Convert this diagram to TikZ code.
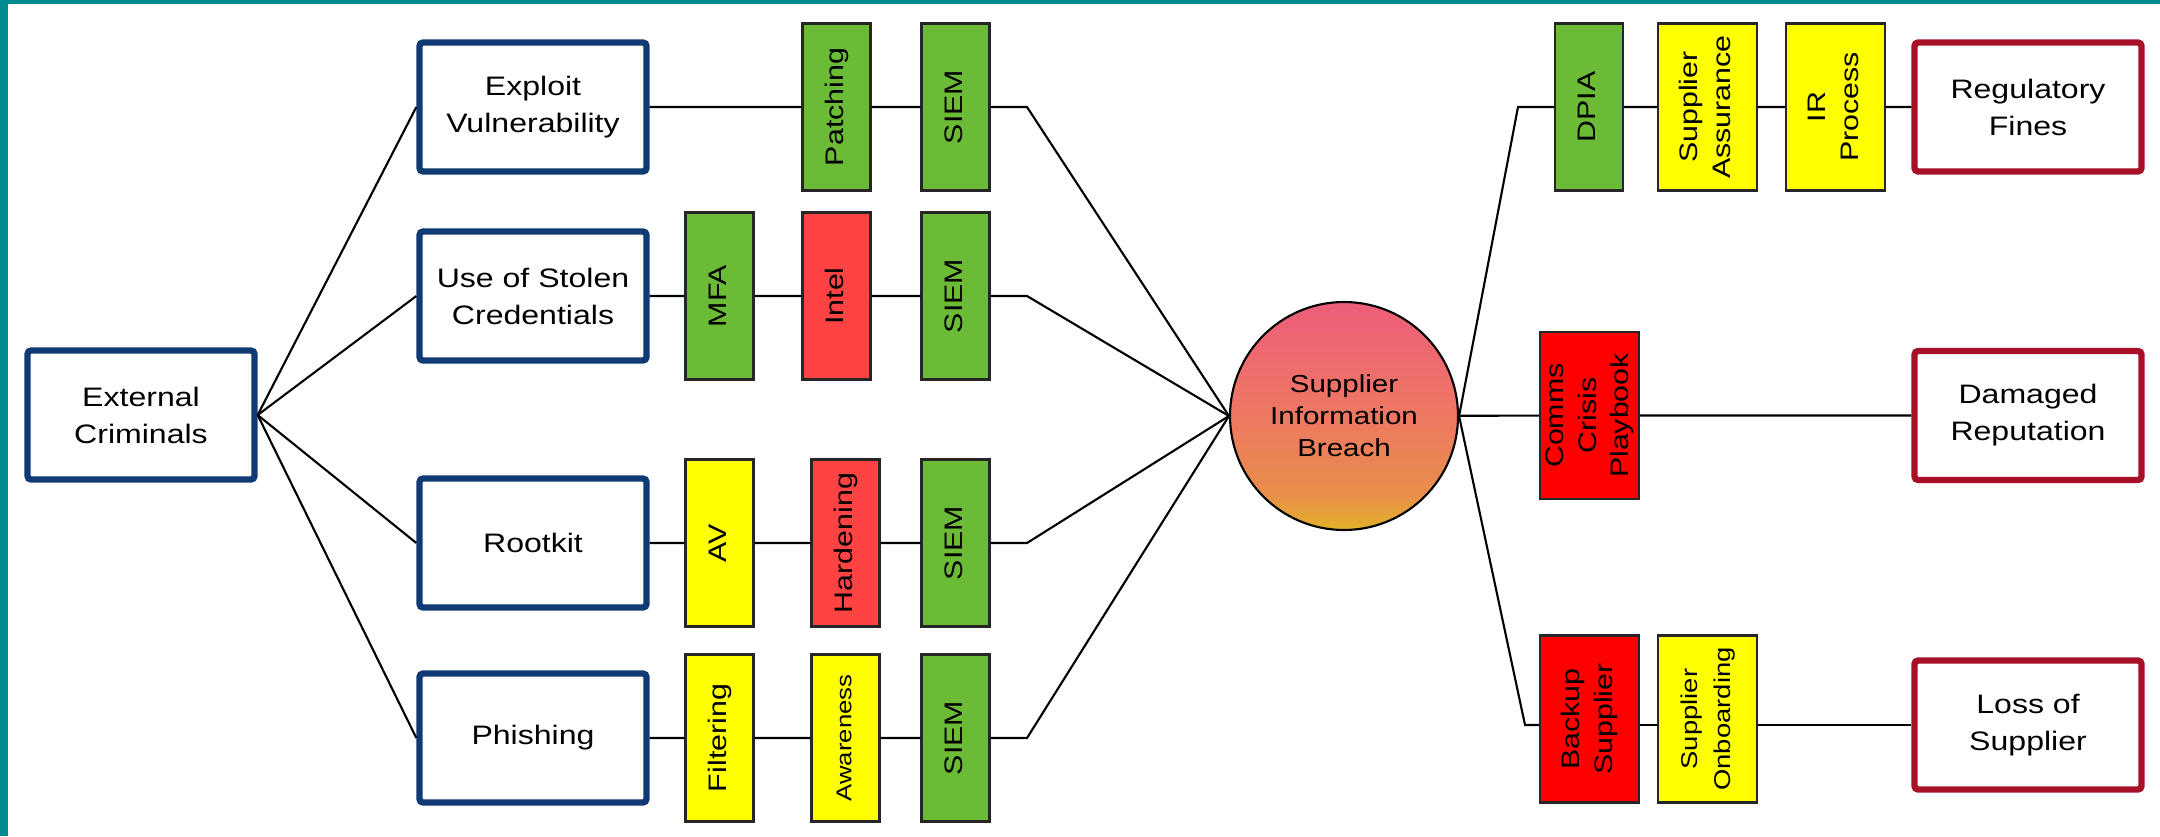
\documentclass[tikz,border=0pt]{standalone}
\usepackage{fontspec}
\setmainfont{Liberation Sans}[FakeStretch=1.2]
\usepackage{tikz}
\usetikzlibrary{calc}
\definecolor{frameteal}{RGB}{0,139,145}
\definecolor{threatblue}{RGB}{16,58,116}
\definecolor{impactred}{RGB}{168,16,40}
\definecolor{ctrlgreen}{RGB}{108,187,54}
\definecolor{ctrlred}{RGB}{255,66,66}
\definecolor{ctrlscarlet}{RGB}{255,0,0}
\definecolor{ctrlyellow}{RGB}{255,255,0}
\definecolor{brtop}{RGB}{237,93,122}
\definecolor{brmid}{RGB}{237,120,98}
\definecolor{brlow}{RGB}{233,142,74}
\definecolor{brbot}{RGB}{226,178,40}
\pgfdeclareverticalshading{breachshade}{100bp}{color(0bp)=(brbot); color(25bp)=(brbot); color(33bp)=(brlow); color(50bp)=(brmid); color(75bp)=(brtop); color(100bp)=(brtop)}
\newcommand{\vtext}[1]{\rotatebox{90}{\begin{tabular}{@{}c@{}}#1\end{tabular}}}
\tikzstyle{threat} = [draw=threatblue, line width=1.8pt, fill=white, rounded corners=1pt, minimum width=2.27cm, minimum height=1.29cm, align=center, font=\fontsize{7.6}{10.5}\selectfont]
\tikzstyle{impact} = [threat, draw=impactred]
\tikzstyle{ctrl} = [draw=black!85, line width=0.6pt, minimum width=0.68cm, minimum height=1.67cm, inner sep=0pt, font=\fontsize{7.2}{9.3}\selectfont]
\tikzstyle{wide} = [minimum width=0.99cm]
\tikzstyle{link} = [line width=0.6pt]

\begin{document}
\begin{tikzpicture}
\useasboundingbox (0,0) rectangle (21.6,8.36);
\fill[frameteal] (0,0) rectangle (0.08,8.36);
\fill[frameteal] (0,8.32) rectangle (21.6,8.36);

\node[threat] (crim) at (1.41,4.21) {External\\Criminals};
\node[threat] (exploit) at (5.33,7.29) {Exploit\\Vulnerability};
\node[threat] (stolen) at (5.33,5.40) {Use of Stolen\\Credentials};
\node[threat] (rootkit) at (5.33,2.93) {Rootkit};
\node[threat] (phish) at (5.33,0.98) {Phishing};

\node[ctrl, fill=ctrlgreen] (patch) at (8.365,7.29) {\vtext{Patching}};
\node[ctrl, fill=ctrlgreen] (siemA) at (9.555,7.29) {\vtext{SIEM}};
\node[ctrl, fill=ctrlgreen] (mfa) at (7.195,5.40) {\vtext{MFA}};
\node[ctrl, fill=ctrlred] (intel) at (8.365,5.40) {\vtext{Intel}};
\node[ctrl, fill=ctrlgreen] (siemB) at (9.555,5.40) {\vtext{SIEM}};
\node[ctrl, fill=ctrlyellow] (av) at (7.195,2.93) {\vtext{AV}};
\node[ctrl, fill=ctrlred] (harden) at (8.455,2.93) {\vtext{Hardening}};
\node[ctrl, fill=ctrlgreen] (siemC) at (9.555,2.93) {\vtext{SIEM}};
\node[ctrl, fill=ctrlyellow] (filter) at (7.195,0.98) {\vtext{Filtering}};
\node[ctrl, fill=ctrlyellow, font=\fontsize{6.1}{8.2}\selectfont] (aware) at (8.455,0.98) {\vtext{Awareness}};
\node[ctrl, fill=ctrlgreen] (siemD) at (9.555,0.98) {\vtext{SIEM}};

\node[circle, draw, line width=0.6pt, shade, shading=breachshade, minimum size=2.28cm, align=center, font=\fontsize{7}{9.1}\selectfont] (breach) at (13.44,4.20) {Supplier\\Information\\Breach};

\node[ctrl, fill=ctrlgreen] (dpia) at (15.89,7.29) {\vtext{DPIA}};
\node[ctrl, wide, fill=ctrlyellow] (sassure) at (17.075,7.29) {\vtext{Supplier\\Assurance}};
\node[ctrl, wide, fill=ctrlyellow] (irproc) at (18.355,7.29) {\vtext{IR\\Process}};
\node[impact] (fines) at (20.28,7.29) {Regulatory\\Fines};
\node[ctrl, wide, fill=ctrlscarlet] (comms) at (15.895,4.205) {\vtext{Comms\\Crisis\\Playbook}};
\node[impact] (reput) at (20.28,4.205) {Damaged\\Reputation};
\node[ctrl, wide, fill=ctrlscarlet] (backup) at (15.895,1.17) {\vtext{Backup\\Supplier}};
\node[ctrl, wide, fill=ctrlyellow, font=\fontsize{6.5}{9.3}\selectfont] (onboard) at (17.075,1.17) {\vtext{Supplier\\Onboarding}};
\node[impact] (losssup) at (20.28,1.11) {Loss of\\Supplier};

\coordinate (jA) at (10.27,7.29);
\coordinate (jB) at (10.27,5.40);
\coordinate (jC) at (10.27,2.93);
\coordinate (jD) at (10.27,0.98);
\coordinate (kA) at (15.18,7.29);
\coordinate (kC) at (15.25,1.11);

\draw[link] (crim.east) -- (exploit.west);
\draw[link] (crim.east) -- (stolen.west);
\draw[link] (crim.east) -- (rootkit.west);
\draw[link] (crim.east) -- (phish.west);

\draw[link] (exploit) -- (patch) -- (siemA) -- (jA) -- (breach.west);
\draw[link] (stolen) -- (mfa) -- (intel) -- (siemB) -- (jB) -- (breach.west);
\draw[link] (rootkit) -- (av) -- (harden) -- (siemC) -- (jC) -- (breach.west);
\draw[link] (phish) -- (filter) -- (aware) -- (siemD) -- (jD) -- (breach.west);

\draw[link] (breach.east) -- (kA) -- (dpia) -- (sassure) -- (irproc) -- (fines);
\draw[link] (breach) -- (comms) -- (reput);
\draw[link] (breach.east) -- (kC) -- (backup.west |- kC);
\draw[link] (backup.east |- kC) -- (onboard.west |- kC);
\draw[link] (onboard.east |- kC) -- (losssup.west);
\end{tikzpicture}
\end{document}
